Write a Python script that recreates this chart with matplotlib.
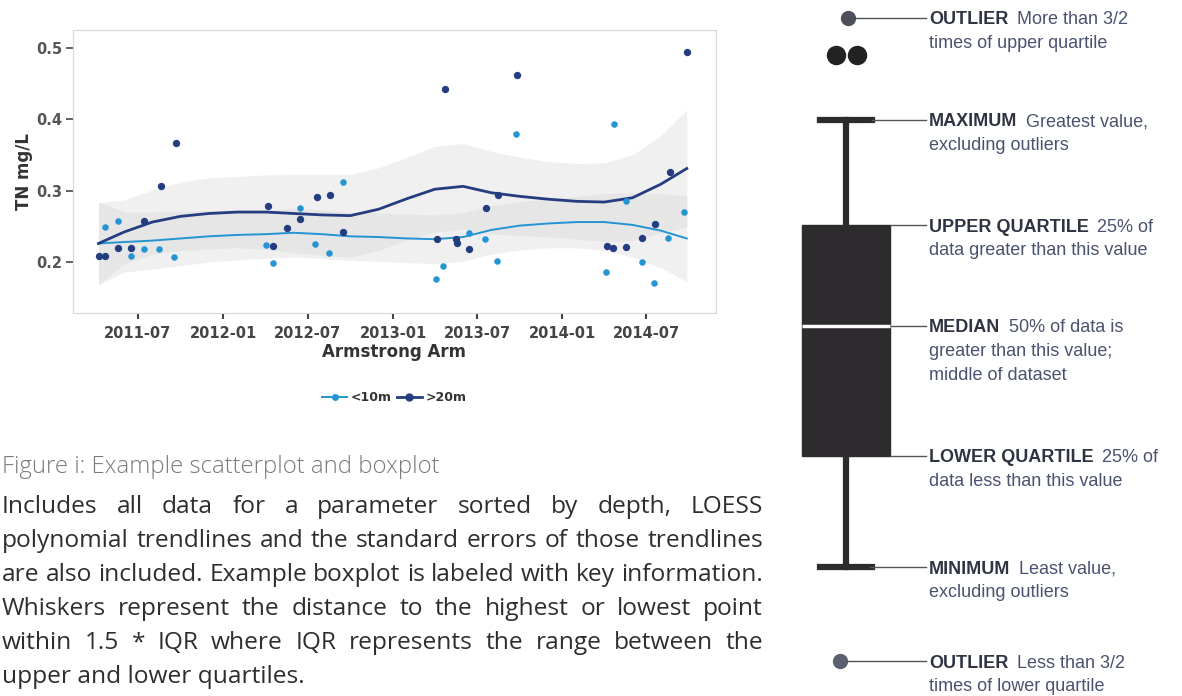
import matplotlib
matplotlib.use("Agg")
import matplotlib.pyplot as plt
from matplotlib.lines import Line2D
import pandas as pd

W, H = 1182, 696

# ---- scatterplot data (TN mg/L, Armstrong Arm) ----
shallow_dates = ["2011-04-21", "2011-05-20", "2011-06-16", "2011-07-13", "2011-08-15",
                 "2011-09-17", "2012-04-03", "2012-04-18", "2012-06-15", "2012-07-17",
                 "2012-08-15", "2012-09-15", "2013-04-04", "2013-04-19", "2013-06-14",
                 "2013-07-18", "2013-08-13", "2013-09-23", "2014-04-05", "2014-04-22",
                 "2014-05-18", "2014-06-21", "2014-07-18", "2014-08-17", "2014-09-19"]
shallow_tn = [0.249, 0.258, 0.209, 0.218, 0.218,
              0.207, 0.224, 0.198, 0.275, 0.225,
              0.213, 0.312, 0.176, 0.195, 0.240,
              0.232, 0.201, 0.379, 0.186, 0.393,
              0.285, 0.200, 0.171, 0.233, 0.270]

deep_dates = ["2011-04-07", "2011-04-21", "2011-05-20", "2011-06-16", "2011-07-15",
              "2011-08-19", "2011-09-20", "2012-04-07", "2012-04-17", "2012-05-17",
              "2012-06-15", "2012-07-21", "2012-08-18", "2012-09-15", "2013-04-05",
              "2013-04-23", "2013-05-16", "2013-05-18", "2013-06-14", "2013-07-20",
              "2013-08-16", "2013-09-25", "2014-04-06", "2014-04-19", "2014-05-18",
              "2014-06-22", "2014-07-20", "2014-08-20", "2014-09-26"]
deep_tn = [0.209, 0.209, 0.219, 0.219, 0.258,
           0.306, 0.367, 0.278, 0.222, 0.248,
           0.260, 0.291, 0.294, 0.242, 0.232,
           0.443, 0.232, 0.226, 0.218, 0.275,
           0.294, 0.462, 0.222, 0.219, 0.221,
           0.233, 0.253, 0.326, 0.494]

# LOESS trend lines and their standard error half-widths
trend_dates = ["2011-04-07", "2011-06-01", "2011-08-01", "2011-10-01", "2011-12-01",
               "2012-02-01", "2012-04-01", "2012-06-01", "2012-08-01", "2012-10-01",
               "2012-12-01", "2013-02-01", "2013-04-01", "2013-06-01", "2013-08-01",
               "2013-10-01", "2013-12-01", "2014-02-01", "2014-04-01", "2014-06-01",
               "2014-08-01", "2014-09-26"]
shallow_trend = [0.226, 0.228, 0.230, 0.233, 0.236, 0.238, 0.239, 0.241, 0.239, 0.236, 0.235,
                 0.233, 0.232, 0.235, 0.245, 0.251, 0.254, 0.256, 0.256, 0.252, 0.244, 0.233]
shallow_se = [0.058, 0.042, 0.040, 0.038, 0.036, 0.035, 0.034, 0.034, 0.034, 0.034, 0.034,
              0.034, 0.034, 0.034, 0.034, 0.034, 0.034, 0.036, 0.040, 0.045, 0.052, 0.060]
deep_trend = [0.226, 0.242, 0.256, 0.264, 0.268, 0.270, 0.270, 0.268, 0.266, 0.265, 0.274,
              0.289, 0.302, 0.306, 0.297, 0.292, 0.288, 0.285, 0.284, 0.290, 0.309, 0.331]
deep_se = [0.057, 0.045, 0.045, 0.048, 0.050, 0.050, 0.052, 0.055, 0.057, 0.058, 0.058,
           0.058, 0.060, 0.060, 0.058, 0.055, 0.053, 0.053, 0.055, 0.060, 0.068, 0.082]

x_ticks = ["2011-07", "2012-01", "2012-07", "2013-01", "2013-07", "2014-01", "2014-07"]
y_ticks = [0.2, 0.3, 0.4, 0.5]
series_names = ["<10m", ">20m"]

# ---- boxplot schematic (pixel rows, top of page = 0) ----
box_stats = dict(whishi=120, q3=225, med=326, q1=456, whislo=567)
outlier_hi = [18]
outlier_pair = [55, 55]
outlier_lo = [661]

box_labels = [
    ("OUTLIER", "More than 3/2", ["times of upper quartile"]),
    ("MAXIMUM", "Greatest value,", ["excluding outliers"]),
    ("UPPER QUARTILE", "25% of", ["data greater than this value"]),
    ("MEDIAN", "50% of data is", ["greater than this value;", "middle of dataset"]),
    ("LOWER QUARTILE", "25% of", ["data less than this value"]),
    ("MINIMUM", "Least value,", ["excluding outliers"]),
    ("OUTLIER", "Less than 3/2", ["times of lower quartile"]),
]

caption = "Figure i: Example scatterplot and boxplot"
paragraph = [
    "Includes all data for a parameter sorted by depth, LOESS",
    "polynomial trendlines and the standard errors of those trendlines",
    "are also included. Example boxplot is labeled with key information.",
    "Whiskers represent the distance to the highest or lowest point",
    "within 1.5 * IQR where IQR represents the range between the",
    "upper and lower quartiles.",
]

light_col = "#2594d3"
dark_col = "#243d80"

fig = plt.figure(figsize=(W / 100, H / 100), dpi=100)

# ---- scatterplot ----
ax = fig.add_axes([73 / W, 1 - 313 / H, (716 - 73) / W, (313 - 30) / H])
td = pd.to_datetime(trend_dates)
for trend, se in [(deep_trend, deep_se), (shallow_trend, shallow_se)]:
    lo = [t - s for t, s in zip(trend, se)]
    hi = [t + s for t, s in zip(trend, se)]
    ax.fill_between(td, lo, hi, color="#d2d2d2", alpha=0.32, lw=0)
ax.plot(td, shallow_trend, color=light_col, lw=1.4)
ax.plot(td, deep_trend, color=dark_col, lw=2.0)
ax.scatter(pd.to_datetime(shallow_dates), shallow_tn, s=22, color=light_col, zorder=3, lw=0)
ax.scatter(pd.to_datetime(deep_dates), deep_tn, s=28, color=dark_col, zorder=3, lw=0)

ax.set_xlim(pd.Timestamp("2011-02-11"), pd.Timestamp("2014-11-28"))
ax.set_ylim(0.1286, 0.525)
ax.set_xticks(pd.to_datetime(x_ticks))
ax.set_xticklabels(x_ticks)
ax.set_yticks(y_ticks)
ax.set_yticklabels([f"{v:.1f}" for v in y_ticks])
for sp in ax.spines.values():
    sp.set_color("#d6d7e0")
    sp.set_linewidth(0.8)
ax.tick_params(axis="y", length=5, width=1.3, color="#555555", pad=3,
               labelsize=10.5, labelcolor="#555555")
ax.tick_params(axis="x", length=4, width=1.5, color="#444444", pad=5,
               labelsize=10.5, labelcolor="#444444")
for lab in ax.get_xticklabels() + ax.get_yticklabels():
    lab.set_fontweight("bold")
ax.set_xlabel("Armstrong Arm", fontsize=12, fontweight="bold", color="#333333", labelpad=2)
ax.set_ylabel("TN mg/L", fontsize=12, fontweight="bold", color="#333333", labelpad=2)

handles = [Line2D([], [], color=light_col, lw=1.4, marker="o", ms=4),
           Line2D([], [], color=dark_col, lw=2.0, marker="o", ms=5)]
leg = ax.legend(handles, series_names, loc="center", bbox_to_anchor=(0.5, -0.30), ncol=2,
                frameon=False, handlelength=2.0, handletextpad=0.3, columnspacing=0.4,
                prop=dict(size=9, weight="bold"))
for t in leg.get_texts():
    t.set_color("#333333")

# ---- overlay in page pixels for boxplot and text ----
ov = fig.add_axes([0, 0, 1, 1])
ov.set_xlim(0, W)
ov.set_ylim(H, 0)
ov.axis("off")
ov.patch.set_visible(False)

box_col = "#2d2b2e"
ov.bxp([dict(box_stats, fliers=[])], positions=[846], widths=[88], capwidths=[52],
       showfliers=False, patch_artist=True, manage_ticks=False,
       boxprops=dict(facecolor=box_col, edgecolor=box_col, lw=1),
       medianprops=dict(color="white", lw=2.5),
       whiskerprops=dict(color=box_col, lw=4.5),
       capprops=dict(color=box_col, lw=4.5))
ov.plot([848], outlier_hi, "o", ms=10, color="#4d505b")
ov.plot([836, 857], outlier_pair, "o", ms=13, color="#222222")
ov.plot([840], outlier_lo, "o", ms=10, color="#5b6070")

# leader lines from each element to its label
leader_start_x = [855, 872, 890, 890, 890, 870, 847]
leader_y = [outlier_hi[0], box_stats["whishi"], box_stats["q3"], box_stats["med"],
            box_stats["q1"], box_stats["whislo"], outlier_lo[0]]
for x0, y0 in zip(leader_start_x, leader_y):
    ov.plot([x0, 926], [y0, y0], color="#555555", lw=1)

lab_font = ["Liberation Sans", "DejaVu Sans"]
for (bold, desc, more), y0 in zip(box_labels, leader_y):
    yy = y0 + 2
    tb = ov.text(929, yy, bold, fontsize=13, fontweight="bold", color="#2f3342",
                 va="center", family=lab_font)
    ov.annotate(desc, xy=(1, 0), xycoords=tb, xytext=(6, 0), textcoords="offset points",
                va="bottom", ha="left", fontsize=13, color="#4b5270", family=lab_font)
    for k, line in enumerate(more):
        ov.text(929, yy + 23.5 * (k + 1), line, fontsize=13, color="#4b5270",
                va="center", family=lab_font)

# ---- caption and justified paragraph ----
renderer = fig.canvas.get_renderer()
para_font = ["Open Sans", "DejaVu Sans"]


def text_width(s, size, **kw):
    t = ov.text(0, 0, s, fontsize=size, **kw)
    w = t.get_window_extent(renderer).width
    t.remove()
    return w


x_left, x_right = 2, 763
cap_size = 16 * 438 / text_width(caption, 16, family=para_font, fontweight="light")
ov.text(x_left, 467, caption, fontsize=cap_size, family=para_font, fontweight="light",
        color="#7a7a7a", va="center")

para_size = 16 * (x_right - x_left) / text_width(paragraph[2], 16, family=para_font)
for i, line in enumerate(paragraph):
    y = 507 + 34 * i
    if i == len(paragraph) - 1:
        ov.text(x_left, y, line, fontsize=para_size, family=para_font, color="#2e2e2e",
                va="center")
        continue
    words = line.split(" ")
    widths = [text_width(w, para_size, family=para_font) for w in words]
    gap = (x_right - x_left - sum(widths)) / (len(words) - 1)
    x = x_left
    for w, wd in zip(words, widths):
        ov.text(x, y, w, fontsize=para_size, family=para_font, color="#2e2e2e", va="center")
        x += wd + gap

fig.savefig("out.png", dpi=100)
